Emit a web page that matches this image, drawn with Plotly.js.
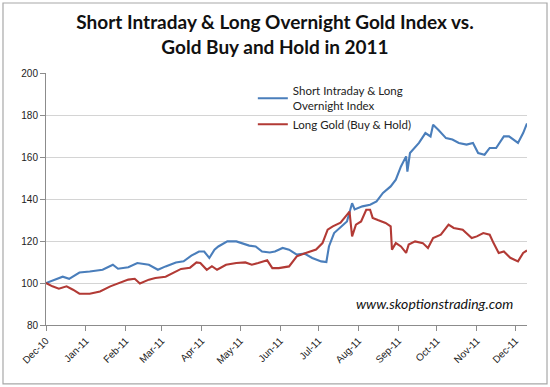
<!DOCTYPE html>
<html>
<head>
<meta charset="utf-8">
<script src="https://cdn.plot.ly/plotly-3.0.1.min.js"></script>
<style>html,body{margin:0;padding:0;background:#fff;}#chart{width:550px;height:387px;}</style>
</head>
<body>
<div id="chart"></div>
<script>
// Short Intraday & Long Overnight Gold Index (blue)
var indexDates = ['2010-12-01','2010-12-07','2010-12-14','2010-12-19','2010-12-27','2011-01-04','2011-01-14','2011-01-22','2011-01-26','2011-02-03','2011-02-10','2011-02-19','2011-02-26','2011-03-04','2011-03-12','2011-03-18','2011-03-24','2011-03-30','2011-04-03','2011-04-07','2011-04-11','2011-04-14','2011-04-21','2011-04-28','2011-05-02','2011-05-08','2011-05-13','2011-05-18','2011-05-24','2011-05-28','2011-06-03','2011-06-08','2011-06-14','2011-06-20','2011-06-26','2011-07-03','2011-07-07','2011-07-09','2011-07-13','2011-07-19','2011-07-23','2011-07-27','2011-07-29','2011-08-04','2011-08-10','2011-08-15','2011-08-20','2011-08-26','2011-08-30','2011-09-03','2011-09-07','2011-09-08','2011-09-10','2011-09-17','2011-09-22','2011-09-26','2011-09-28','2011-10-02','2011-10-08','2011-10-13','2011-10-18','2011-10-24','2011-10-29','2011-11-02','2011-11-07','2011-11-11','2011-11-16','2011-11-22','2011-11-26','2011-12-03','2011-12-07','2011-12-10'];
var indexValues = [100,101.5,103,102,105,105.5,106.3,108.7,106.8,107.5,109.5,108.7,106.3,107.9,109.8,110.3,113,115,115,111.9,115.9,117.4,119.8,119.8,119,117.8,117.4,115,114.5,115,116.7,115.9,113.5,114,111.9,110.3,110,117.4,123.8,127,129.3,138,135,136.5,137.3,138.9,142.9,146,149.2,155.5,160.3,153,161.9,166.7,171.4,169.8,175.4,173,169,168.3,166.7,165.9,166.7,161.9,161.1,164.3,164.3,169.8,169.8,166.7,171.4,176];

// Long Gold (Buy & Hold) (red)
var goldDates = ['2010-12-01','2010-12-06','2010-12-11','2010-12-17','2010-12-22','2010-12-27','2011-01-04','2011-01-12','2011-01-20','2011-01-28','2011-02-03','2011-02-08','2011-02-12','2011-02-19','2011-02-24','2011-03-04','2011-03-10','2011-03-16','2011-03-23','2011-03-28','2011-03-31','2011-04-05','2011-04-09','2011-04-13','2011-04-20','2011-04-28','2011-05-05','2011-05-10','2011-05-15','2011-05-22','2011-05-26','2011-05-31','2011-06-08','2011-06-14','2011-06-21','2011-06-29','2011-07-04','2011-07-08','2011-07-12','2011-07-18','2011-07-22','2011-07-25','2011-07-27','2011-07-30','2011-08-03','2011-08-07','2011-08-10','2011-08-12','2011-08-16','2011-08-22','2011-08-26','2011-08-27','2011-08-30','2011-09-03','2011-09-07','2011-09-09','2011-09-14','2011-09-20','2011-09-24','2011-09-28','2011-10-04','2011-10-10','2011-10-14','2011-10-21','2011-10-28','2011-11-01','2011-11-06','2011-11-11','2011-11-14','2011-11-18','2011-11-22','2011-11-27','2011-12-03','2011-12-07','2011-12-10'];
var goldValues = [100,98.4,97.3,98.4,96.8,94.9,94.9,96,98.4,100.3,101.6,102,99.8,101.6,102.4,103,104.8,106.7,107.3,109.8,109.5,106.3,108,106.3,108.7,109.5,109.8,108.7,109.5,110.8,107.1,107.1,107.9,112.7,114.3,115.9,119,125.4,127,128.7,131.7,134,122.2,127.8,129.3,134.9,134.9,131,130,128.6,127,115.9,119,117.4,114.3,118.3,119.8,119,116.7,121.4,123,127.8,126.2,125.4,121.4,122.2,123.8,123,119,114.3,115,112,110.3,114.3,115.5];

var seriesNames = ['Short Intraday & Long<br>Overnight Index', 'Long Gold (Buy & Hold)'];
var titleText = 'Short Intraday &amp; Long Overnight Gold Index vs.<br>Gold Buy and Hold in 2011';
var watermark = 'www.skoptionstrading.com';

var traces = [
  {x: indexDates, y: indexValues, name: seriesNames[0], type: 'scatter', mode: 'lines',
   line: {color: '#4a7ebb', width: 2.1}},
  {x: goldDates, y: goldValues, name: seriesNames[1], type: 'scatter', mode: 'lines',
   line: {color: '#b23a35', width: 2.1}}
];

var layout = {
  width: 550, height: 387,
  margin: {l: 46, r: 23, t: 73, b: 62},
  paper_bgcolor: '#fff', plot_bgcolor: '#fff',
  font: {family: 'Liberation Sans, Arial, sans-serif', size: 10, color: '#222'},
  title: {text: titleText, x: 0.5, xanchor: 'center', y: 0.925, yanchor: 'top',
          font: {family: 'Lato, sans-serif', size: 19, color: '#111', weight: 'bold'}},
  xaxis: {type: 'date', range: ['2010-12-01', '2011-12-10'], tick0: '2010-12-01', dtick: 'M1',
          tickformat: '%b-%y', tickangle: -45, ticks: 'outside', ticklen: 5, tickcolor: '#8c8c8c',
          showline: true, linecolor: '#8c8c8c', linewidth: 1, showgrid: false, zeroline: false,
          tickfont: {size: 10, color: '#222'}},
  yaxis: {range: [80, 200], dtick: 20, ticks: 'outside', ticklen: 5, tickcolor: '#8c8c8c',
          showline: true, linecolor: '#8c8c8c', linewidth: 1, gridcolor: '#d4d4d4', zeroline: false,
          tickfont: {size: 10, color: '#222'}},
  showlegend: true,
  legend: {x: 0.43, y: 0.985, xanchor: 'left', yanchor: 'top', bgcolor: 'rgba(255,255,255,0)',
           font: {family: 'Lato, sans-serif', size: 11.5, color: '#222'}, tracegroupgap: 6},
  annotations: [{text: watermark, xref: 'paper', yref: 'paper', x: 0.975, y: 0.087,
                 xanchor: 'right', yanchor: 'middle', showarrow: false,
                 font: {family: 'Lato, sans-serif', size: 14, color: '#111', style: 'italic'}}],
  shapes: [{type: 'rect', xref: 'paper', yref: 'paper', x0: -0.0894, x1: 1.0416, y0: -0.234, y1: 1.2778,
            line: {color: '#a8a8a8', width: 1.2}, fillcolor: 'rgba(0,0,0,0)', layer: 'below'}]
};

Plotly.newPlot('chart', traces, layout, {staticPlot: true, displayModeBar: false});
</script>
</body>
</html>
